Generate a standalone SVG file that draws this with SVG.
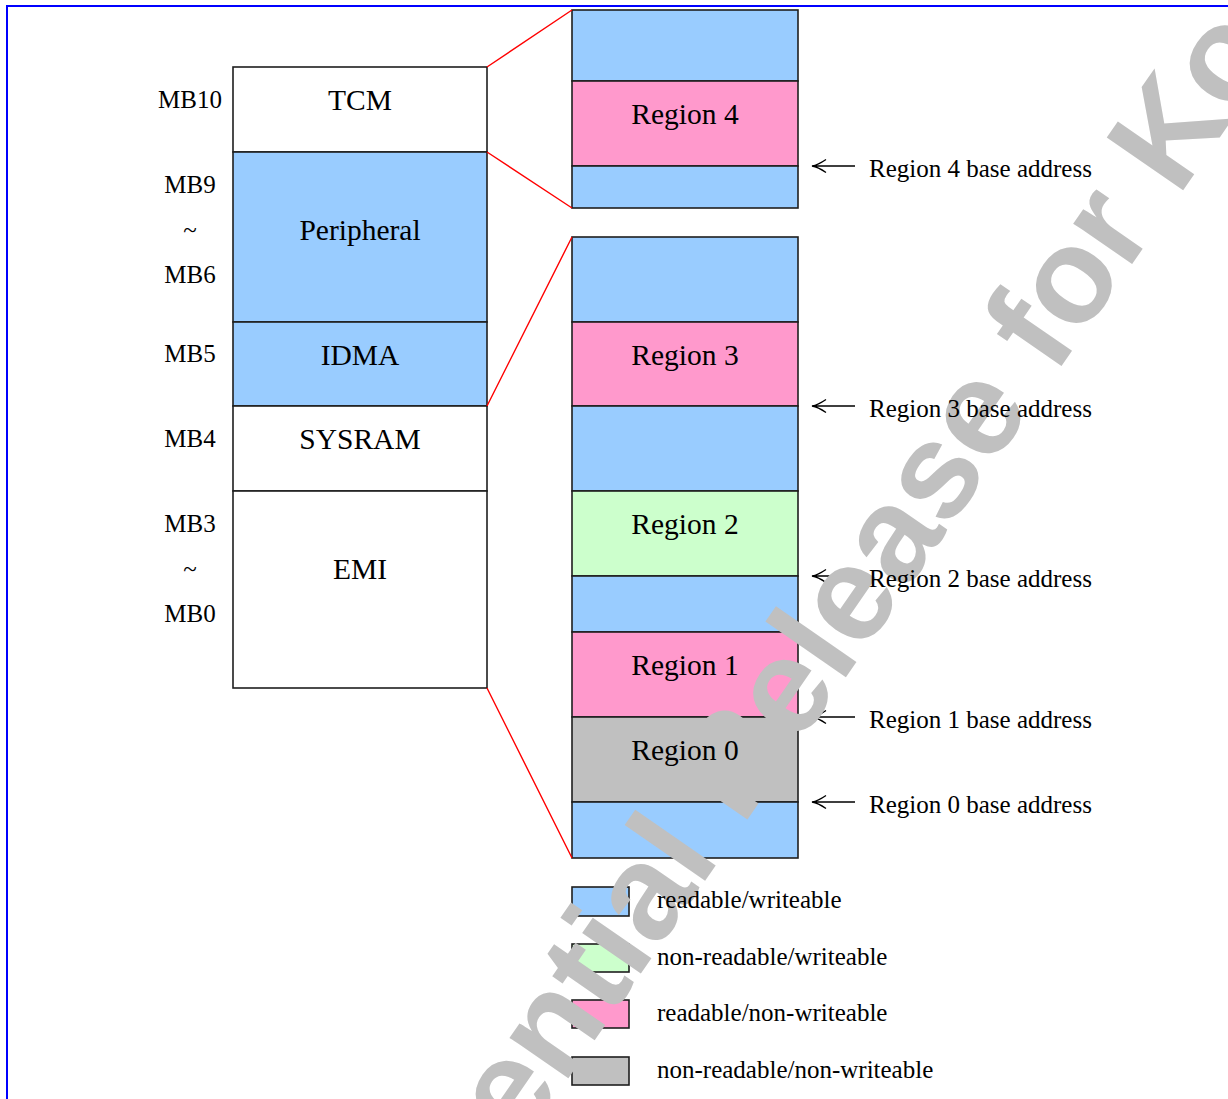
<svg xmlns="http://www.w3.org/2000/svg" width="1228" height="1099" viewBox="0 0 1228 1099">
  <style>
    .box { stroke: #1e1e1e; stroke-width: 1.6; }
    .rw { fill: #99ccff; }
    .nrw { fill: #ccffcc; }
    .rnw { fill: #ff99cc; }
    .nrnw { fill: #c0c0c0; }
    .plain { fill: #ffffff; }
    .zoom { stroke: #ff0000; stroke-width: 1.4; fill: none; }
    .ptr { stroke: #000000; stroke-width: 1.3; fill: none; }
    .lbl { font-family: "Liberation Serif", "Times New Roman", serif; font-size: 29.5px; fill: #000; text-anchor: middle; }
    .side { font-family: "Liberation Serif", "Times New Roman", serif; font-size: 25px; fill: #000; }
    .mid { text-anchor: middle; }
    .mark { font-family: "Liberation Sans", Arial, sans-serif; font-weight: bold; font-size: 135px; fill: #c0c0c0; }
  </style>

  <rect x="0" y="0" width="1228" height="1099" fill="#ffffff"/>
  <!-- page frame -->
  <rect x="7" y="6" width="1240" height="1110" fill="none" stroke="#0000ff" stroke-width="2"/>

  <!-- memory map -->
  <g id="memmap">
    <rect id="tcm" class="box plain" x="233" y="67" width="254" height="85"/>
    <rect id="peripheral" class="box rw" x="233" y="152" width="254" height="170"/>
    <rect id="idma" class="box rw" x="233" y="322" width="254" height="84"/>
    <rect id="sysram" class="box plain" x="233" y="406" width="254" height="85"/>
    <rect id="emi" class="box plain" x="233" y="491" width="254" height="197"/>
  </g>

  <!-- expanded view of TCM -->
  <g id="tcm-regions">
    <rect class="box rw" x="572" y="10" width="226" height="71"/>
    <rect id="region4" class="box rnw" x="572" y="81" width="226" height="85"/>
    <rect class="box rw" x="572" y="166" width="226" height="42"/>
  </g>

  <!-- expanded view of IDMA..EMI -->
  <g id="ext-regions">
    <rect class="box rw" x="572" y="237" width="226" height="85"/>
    <rect id="region3" class="box rnw" x="572" y="322" width="226" height="84"/>
    <rect class="box rw" x="572" y="406" width="226" height="85"/>
    <rect id="region2" class="box nrw" x="572" y="491" width="226" height="85"/>
    <rect class="box rw" x="572" y="576" width="226" height="56"/>
    <rect id="region1" class="box rnw" x="572" y="632" width="226" height="85"/>
    <rect id="region0" class="box nrnw" x="572" y="717" width="226" height="85"/>
    <rect class="box rw" x="572" y="802" width="226" height="56"/>
  </g>

  <!-- legend swatches -->
  <g id="legend">
    <rect class="box rw" x="572" y="887" width="57" height="29"/>
    <rect class="box nrw" x="572" y="944" width="57" height="28"/>
    <rect class="box rnw" x="572" y="1000" width="57" height="28"/>
    <rect class="box nrnw" x="572" y="1057" width="57" height="28"/>
  </g>

  <!-- connectors -->
  <g id="connectors">
    <path class="zoom" d="M487,67 L572,10 M487,152 L572,208 M487,406 L572,237 M487,688 L572,858"/>
    <path class="ptr" d="M855,166 H812 M826,159.5 Q818,165 812,166 Q818,167 826,172.5"/>
    <path class="ptr" d="M855,406 H812 M826,399.5 Q818,405 812,406 Q818,407 826,412.5"/>
    <path class="ptr" d="M855,576 H812 M826,569.5 Q818,575 812,576 Q818,577 826,582.5"/>
    <path class="ptr" d="M855,717 H812 M826,710.5 Q818,716 812,717 Q818,718 826,723.5"/>
    <path class="ptr" d="M855,802 H812 M826,795.5 Q818,801 812,802 Q818,803 826,808.5"/>
  </g>

  <!-- document watermark -->
  <text class="mark" transform="translate(277,1499) rotate(-55.3)">Confidential Release for Ko</text>

  <!-- labels -->
  <g id="labels">
    <text class="lbl" x="360" y="110">TCM</text>
    <text class="lbl" x="360" y="240">Peripheral</text>
    <text class="lbl" x="360" y="365">IDMA</text>
    <text class="lbl" x="360" y="449">SYSRAM</text>
    <text class="lbl" x="360" y="579">EMI</text>

    <text class="side mid" x="190" y="108">MB10</text>
    <text class="side mid" x="190" y="193">MB9</text>
    <text class="side mid" x="190" y="238">~</text>
    <text class="side mid" x="190" y="283">MB6</text>
    <text class="side mid" x="190" y="362">MB5</text>
    <text class="side mid" x="190" y="447">MB4</text>
    <text class="side mid" x="190" y="532">MB3</text>
    <text class="side mid" x="190" y="577">~</text>
    <text class="side mid" x="190" y="622">MB0</text>

    <text class="lbl" x="685" y="124">Region 4</text>
    <text class="lbl" x="685" y="365">Region 3</text>
    <text class="lbl" x="685" y="534">Region 2</text>
    <text class="lbl" x="685" y="675">Region 1</text>
    <text class="lbl" x="685" y="760">Region 0</text>

    <text class="side" x="869" y="177">Region 4 base address</text>
    <text class="side" x="869" y="417">Region 3 base address</text>
    <text class="side" x="869" y="587">Region 2 base address</text>
    <text class="side" x="869" y="728">Region 1 base address</text>
    <text class="side" x="869" y="813">Region 0 base address</text>

    <text class="side" x="657" y="908">readable/writeable</text>
    <text class="side" x="657" y="965">non-readable/writeable</text>
    <text class="side" x="657" y="1021">readable/non-writeable</text>
    <text class="side" x="657" y="1078">non-readable/non-writeable</text>
  </g>
</svg>
